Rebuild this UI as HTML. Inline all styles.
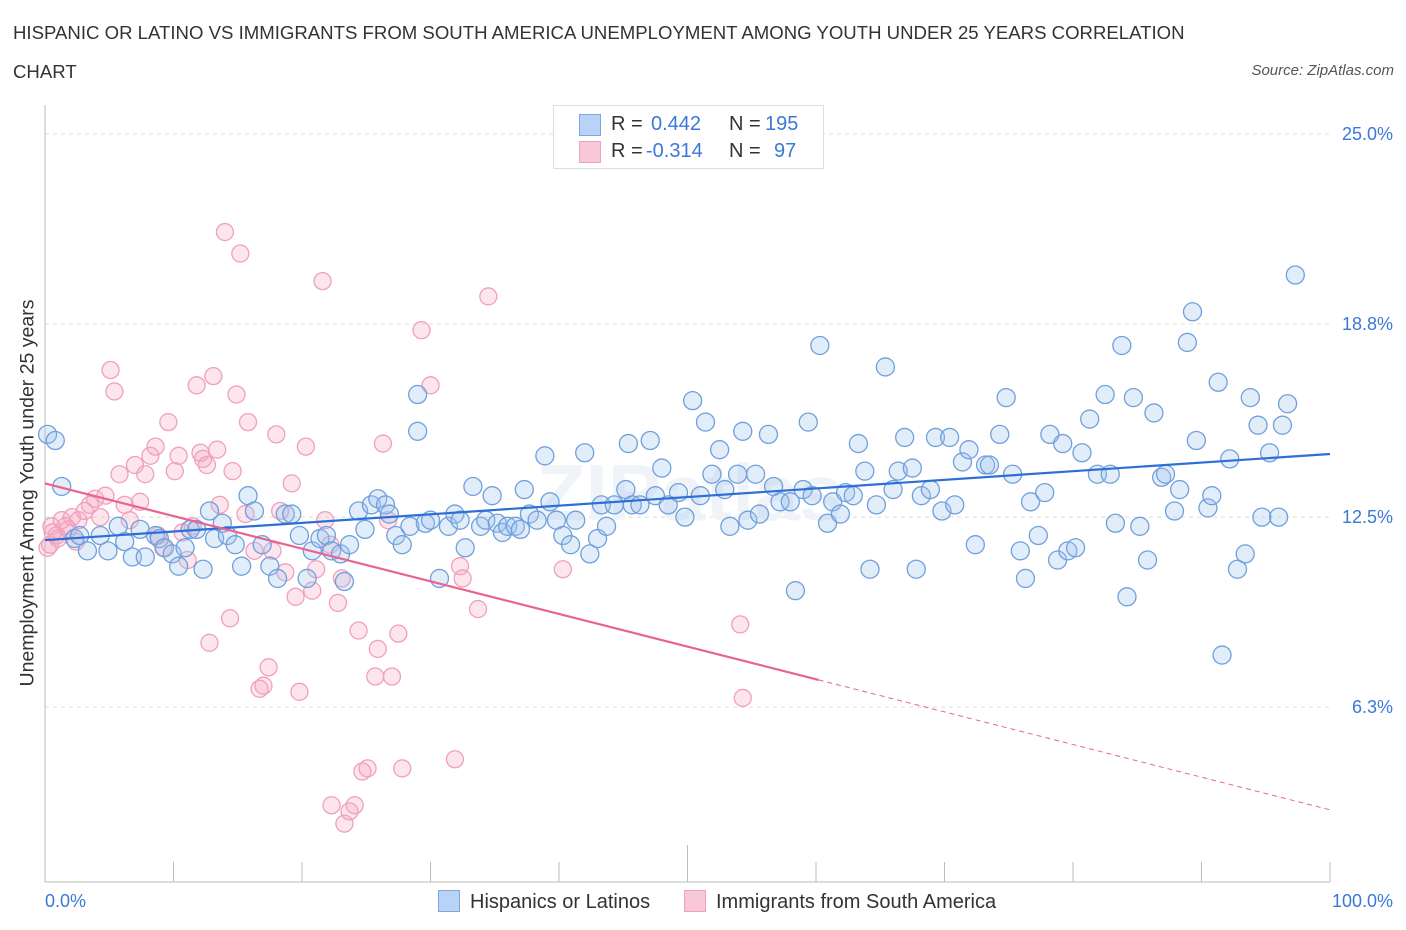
<!DOCTYPE html>
<html><head><meta charset="utf-8"><style>
body{margin:0;background:#fff;font-family:"Liberation Sans",sans-serif;}
#wrap{position:relative;width:1406px;height:930px;overflow:hidden;}
.t{position:absolute;white-space:nowrap;}
</style></head><body>
<div id="wrap">
<div class="t" style="left:13px;top:22px;font-size:18.6px;color:#333;">HISPANIC OR LATINO VS IMMIGRANTS FROM SOUTH AMERICA UNEMPLOYMENT AMONG YOUTH UNDER 25 YEARS CORRELATION</div>
<div class="t" style="left:13px;top:61px;font-size:18.6px;color:#333;">CHART</div>
<div class="t" style="right:12px;top:62px;font-size:15px;color:#555;font-style:italic;">Source: ZipAtlas.com</div>
<svg id="svg" width="1406" height="930" style="position:absolute;left:0;top:0"></svg>
</div>
<script>
const blueX=[0.2,0.8,1.3,2.3,2.7,3.3,4.3,4.9,5.7,6.2,6.8,7.4,7.8,8.6,8.9,9.3,9.9,10.4,10.9,11.3,11.8,12.3,12.8,13.2,13.8,14.2,14.8,15.3,15.8,16.3,16.9,17.5,18.1,18.7,19.2,19.8,20.4,20.8,21.4,21.9,22.3,23.0,23.3,23.7,24.4,24.9,25.4,25.9,26.5,26.8,27.3,27.8,28.4,29.0,29.0,29.6,30.0,30.7,31.4,31.9,32.3,32.7,33.3,33.9,34.3,34.8,35.2,35.6,36.0,36.6,37.0,37.3,37.7,38.3,38.9,39.3,39.8,40.3,40.9,41.3,42.0,42.4,43.0,43.3,43.7,44.3,45.2,45.4,45.7,46.3,47.1,47.5,48.0,48.5,49.3,49.8,50.4,51.0,51.4,51.9,52.5,52.9,53.3,53.9,54.3,54.7,55.3,55.6,56.3,56.7,57.2,58.0,58.4,59.0,59.4,59.7,60.3,60.9,61.3,61.9,62.3,62.9,63.3,63.8,64.2,64.7,65.4,66.0,66.4,66.9,67.5,67.8,68.2,68.9,69.3,69.8,70.4,70.8,71.4,71.9,72.4,73.2,73.5,74.3,74.8,75.3,75.9,76.3,76.7,77.3,77.8,78.2,78.8,79.2,79.6,80.2,80.7,81.3,81.9,82.5,82.9,83.3,83.8,84.2,84.7,85.2,85.8,86.3,86.9,87.2,87.9,88.3,88.9,89.3,89.6,90.5,90.8,91.3,91.6,92.2,92.8,93.4,93.8,94.4,94.7,95.3,96.0,96.3,96.7,97.3];
const blueY=[15.2,15.0,13.5,11.8,11.9,11.4,11.9,11.4,12.2,11.7,11.2,12.1,11.2,11.9,11.8,11.5,11.3,10.9,11.5,12.1,12.1,10.8,12.7,11.8,12.3,11.9,11.6,10.9,13.2,12.7,11.6,10.9,10.5,12.6,12.6,11.9,10.5,11.4,11.8,11.9,11.4,11.3,10.4,11.6,12.7,12.1,12.9,13.1,12.9,12.6,11.9,11.6,12.2,16.5,15.3,12.3,12.4,10.5,12.2,12.6,12.4,11.5,13.5,12.2,12.4,13.2,12.3,12.0,12.2,12.2,12.1,13.4,12.6,12.4,14.5,13.0,12.4,11.9,11.6,12.4,14.6,11.3,11.8,12.9,12.2,12.9,13.4,14.9,12.9,12.9,15.0,13.2,14.1,12.9,13.3,12.5,16.3,13.2,15.6,13.9,14.7,13.4,12.2,13.9,15.3,12.4,13.9,12.6,15.2,13.5,13.0,13.0,10.1,13.4,15.6,13.2,18.1,12.3,13.0,12.6,13.3,13.2,14.9,14.0,10.8,12.9,17.4,13.4,14.0,15.1,14.1,10.8,13.2,13.4,15.1,12.7,15.1,12.9,14.3,14.7,11.6,14.2,14.2,15.2,16.4,13.9,11.4,10.5,13.0,11.9,13.3,15.2,11.1,14.9,11.4,11.5,14.6,15.7,13.9,16.5,13.9,12.3,18.1,9.9,16.4,12.2,11.1,15.9,13.8,13.9,12.7,13.4,18.2,19.2,15.0,12.8,13.2,16.9,8.0,14.4,10.8,11.3,16.4,15.5,12.5,14.6,12.5,15.5,16.2,20.4];
const pinkX=[0.2,0.5,1.0,1.3,1.8,2.1,2.6,3.1,3.5,3.9,4.3,4.7,5.1,5.4,5.8,6.2,6.6,7.0,7.4,7.8,8.2,8.6,8.8,9.2,9.6,10.1,10.4,10.7,11.1,11.5,11.8,12.1,12.3,12.6,12.8,13.1,13.4,13.6,14.0,14.4,14.6,14.9,15.2,15.6,15.8,16.3,16.7,17.0,17.4,17.7,18.0,18.3,18.7,19.2,19.5,19.8,20.3,20.8,21.1,21.6,21.8,22.2,22.8,23.1,23.3,23.7,24.1,24.4,24.7,25.1,25.7,25.9,26.3,26.7,27.0,27.5,27.8,29.3,30.0,31.9,32.3,32.5,33.7,34.5,40.3,54.1,54.3,22.3,0.4,0.9,1.6,2.4,0.6];
const pinkY=[11.5,12.2,11.8,12.4,12.1,12.5,12.4,12.7,12.9,13.1,12.5,13.2,17.3,16.6,13.9,12.9,12.4,14.2,13.0,13.9,14.5,14.8,11.9,11.5,15.6,14.0,14.5,12.0,11.1,12.2,16.8,14.6,14.4,14.2,8.4,17.1,14.7,12.9,21.8,9.2,14.0,16.5,21.1,12.6,15.6,11.4,6.9,7.0,7.6,11.4,15.2,12.7,10.7,13.6,9.9,6.8,14.8,10.1,10.8,20.2,12.4,11.6,9.7,10.5,2.5,2.9,3.1,8.8,4.2,4.3,7.3,8.2,14.9,12.4,7.3,8.7,4.3,18.6,16.8,4.6,10.9,10.5,9.5,19.7,10.8,9.0,6.6,3.1,11.6,11.9,12.2,11.7,12.0];
const blueTrend=[11.75,14.56];
const pinkTrend=[13.6,2.95];
const pinkSolidEnd=60.2;
const yTicks=[25.0,18.8,12.5,6.3];
const yTickLabels=["25.0%","18.8%","12.5%","6.3%"];
const xTickVals=[0,10,20,30,40,50,60,70,80,90,100];

const X=v=>45+v*12.85, Y=v=>134+(25-v)*30.65;
const svg=document.getElementById('svg');
const NS='http://www.w3.org/2000/svg';
function mk(tag,attrs,parent){const e=document.createElementNS(NS,tag);for(const k in attrs)e.setAttribute(k,attrs[k]);(parent||svg).appendChild(e);return e;}
yTicks.forEach((v,i)=>{
 const g=mk('line',{x1:45,x2:1330,y1:Y(v),y2:Y(v),stroke:'#dcdcdc','stroke-dasharray':'4,4'});
 
 
 const t=mk('text',{x:1393,y:Y(v)+6,'text-anchor':'end','font-size':18,fill:'#3b78d8','font-family':'Liberation Sans'});
 t.textContent=yTickLabels[i];
 
 
});
const ax=mk('line',{x1:45,x2:45,y1:105,y2:882,stroke:'#bbb'});


const bx=mk('line',{x1:45,x2:1330,y1:882,y2:882,stroke:'#bbb'});


xTickVals.forEach(v=>{
 const l=mk('line',{x1:X(v),x2:X(v),y1:v===50?845:862,y2:882,stroke:'#bbb'});
 
 
});
const wm=mk('text',{x:690,y:520,'text-anchor':'middle','font-size':80,fill:'#f0f3f8','font-weight':'bold','font-family':'Liberation Sans'});
wm.textContent='ZIPatlas';


pinkX.forEach((x,i)=>{
 const c=mk('circle',{cx:X(x),cy:Y(pinkY[i]),r:8.5,fill:'rgba(244,170,195,0.3)',stroke:'#f0a0bc','stroke-width':1.3});
 
 
});
blueX.forEach((x,i)=>{
 const c=mk('circle',{cx:X(x),cy:Y(blueY[i]),r:9,fill:'rgba(160,195,240,0.3)',stroke:'#6fa0dc','stroke-width':1.3});
 
 
});
const bl=mk('line',{x1:X(0),y1:Y(blueTrend[0]),x2:X(100),y2:Y(blueTrend[1]),stroke:'#2d6fd6','stroke-width':2.2});


const pv=p=>pinkTrend[0]+(pinkTrend[1]-pinkTrend[0])*p/100;
const pl=mk('line',{x1:X(0),y1:Y(pv(0)),x2:X(pinkSolidEnd),y2:Y(pv(pinkSolidEnd)),stroke:'#e8648f','stroke-width':2.2});


const pd=mk('line',{x1:X(pinkSolidEnd),y1:Y(pv(pinkSolidEnd)),x2:X(100),y2:Y(pv(100)),stroke:'#e8648f','stroke-width':1,'stroke-dasharray':'5,4'});


</script>
<div class="t" style="left:28px;top:493px;font-size:19.5px;color:#333;transform:translate(-50%,-50%) rotate(-90deg);">Unemployment Among Youth under 25 years</div>
<div class="t" style="left:45px;top:891px;font-size:18px;color:#3b78d8;">0.0%</div>
<div class="t" style="right:13px;top:891px;font-size:18px;color:#3b78d8;">100.0%</div>
<div style="position:absolute;left:553px;top:105px;width:269px;height:62px;border:1px solid #ddd;background:#fff;font-size:20px;">
 <div style="position:absolute;left:25px;top:8px;width:20px;height:20px;background:#b9d3f7;border:1px solid #7ca7e2;"></div>
 <div class="t" style="left:57px;top:7px;color:#333;">R = </div><div class="t" style="left:97px;top:7px;color:#3b78d8;">0.442</div>
 <div class="t" style="left:175px;top:7px;color:#333;">N =</div><div class="t" style="left:211px;top:7px;color:#3b78d8;">195</div>
 <div style="position:absolute;left:25px;top:35px;width:20px;height:20px;background:#f9c8d8;border:1px solid #eda2bb;"></div>
 <div class="t" style="left:57px;top:34px;color:#333;">R = </div><div class="t" style="left:92px;top:34px;color:#3b78d8;">-0.314</div>
 <div class="t" style="left:175px;top:34px;color:#333;">N =</div><div class="t" style="left:220px;top:34px;color:#3b78d8;">97</div>
</div>
<div style="position:absolute;left:438px;top:890px;font-size:20px;color:#333;">
 <span style="display:inline-block;width:20px;height:20px;background:#b9d3f7;border:1px solid #7ca7e2;vertical-align:-4px;margin-right:10px;"></span>Hispanics or Latinos</div>
<div style="position:absolute;left:684px;top:890px;font-size:20px;color:#333;">
 <span style="display:inline-block;width:20px;height:20px;background:#f9c8d8;border:1px solid #eda2bb;vertical-align:-4px;margin-right:10px;"></span>Immigrants from South America</div>
</body></html>
